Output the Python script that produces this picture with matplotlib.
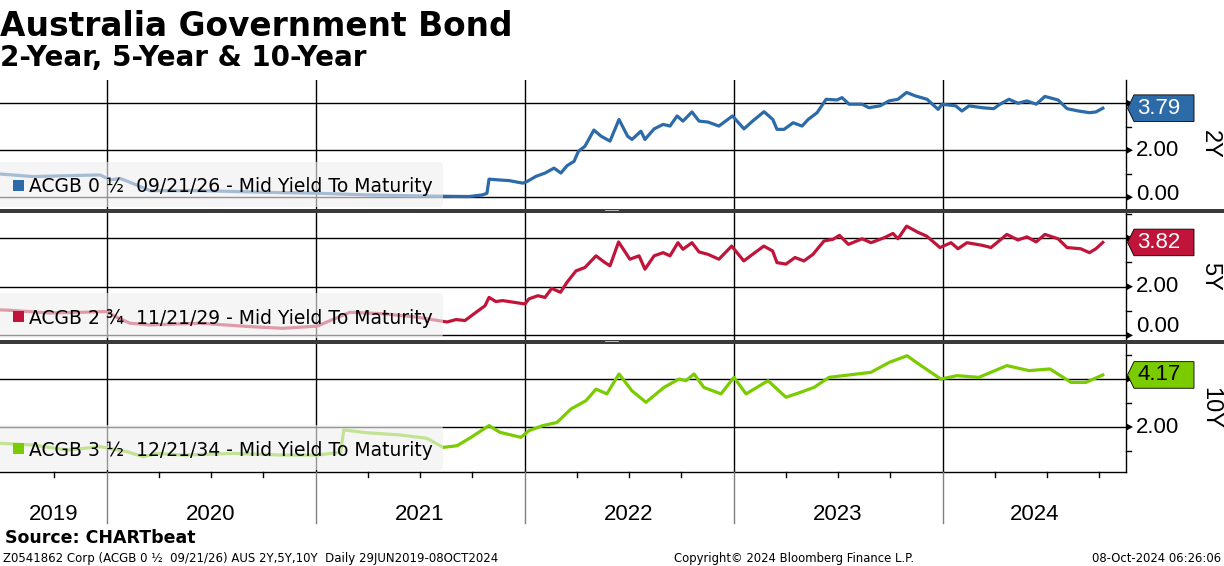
import matplotlib
matplotlib.use("Agg")
import matplotlib.pyplot as plt
from matplotlib.patches import Rectangle, Polygon, FancyBboxPatch
from matplotlib.lines import Line2D
from matplotlib.transforms import IdentityTransform

# ---------------- data (decimal years, yield %) ----------------
x_2y = [2019.490, 2019.648, 2019.825, 2019.969, 2020.017, 2020.065, 2020.136, 2020.208, 2020.447, 2020.768,
        2021.007, 2021.246, 2021.485, 2021.629, 2021.734, 2021.799, 2021.820, 2021.830, 2021.873, 2021.925,
        2021.992, 2022.012, 2022.055, 2022.098, 2022.141, 2022.174, 2022.203, 2022.237, 2022.258, 2022.289,
        2022.332, 2022.366, 2022.409, 2022.452, 2022.493, 2022.514, 2022.557, 2022.576, 2022.620, 2022.663,
        2022.696, 2022.730, 2022.758, 2022.801, 2022.835, 2022.878, 2022.930, 2022.995, 2023.050, 2023.091,
        2023.146, 2023.188, 2023.208, 2023.242, 2023.285, 2023.328, 2023.357, 2023.400, 2023.443, 2023.495,
        2023.519, 2023.553, 2023.615, 2023.648, 2023.701, 2023.744, 2023.787, 2023.828, 2023.871, 2023.926,
        2023.979, 2023.998, 2024.063, 2024.093, 2024.127, 2024.191, 2024.245, 2024.275, 2024.318, 2024.361,
        2024.404, 2024.448, 2024.490, 2024.553, 2024.596, 2024.651, 2024.703, 2024.734, 2024.767]
y_2y = [0.99, 0.88, 0.92, 0.95, 0.74, 0.80, 0.55, 0.28, 0.28, 0.21,
        0.17, 0.10, 0.06, 0.04, 0.03, 0.10, 0.17, 0.77, 0.74, 0.71,
        0.60, 0.67, 0.89, 1.03, 1.24, 1.03, 1.34, 1.53, 1.96, 2.17,
        2.86, 2.60, 2.39, 3.31, 2.60, 2.46, 2.81, 2.46, 2.91, 3.10,
        3.03, 3.46, 3.24, 3.63, 3.24, 3.20, 3.03, 3.46, 2.91, 3.24,
        3.64, 3.31, 2.89, 2.89, 3.17, 3.03, 3.31, 3.60, 4.17, 4.14,
        4.24, 3.96, 3.96, 3.81, 3.89, 4.10, 4.17, 4.46, 4.31, 4.17,
        3.74, 3.96, 3.89, 3.67, 3.89, 3.81, 3.77, 3.96, 4.17, 4.00,
        4.10, 3.96, 4.29, 4.14, 3.77, 3.67, 3.60, 3.63, 3.79]

x_5y = [2019.490, 2019.538, 2019.729, 2019.887, 2020.002, 2020.040, 2020.112, 2020.208, 2020.447, 2020.686,
        2020.844, 2021.007, 2021.165, 2021.323, 2021.485, 2021.629, 2021.672, 2021.715, 2021.768, 2021.811,
        2021.830, 2021.863, 2021.895, 2021.949, 2022.002, 2022.021, 2022.064, 2022.098, 2022.130, 2022.172,
        2022.203, 2022.246, 2022.289, 2022.342, 2022.385, 2022.409, 2022.450, 2022.504, 2022.548, 2022.576,
        2022.620, 2022.663, 2022.696, 2022.734, 2022.758, 2022.801, 2022.835, 2022.878, 2022.930, 2022.991,
        2023.049, 2023.091, 2023.145, 2023.187, 2023.208, 2023.251, 2023.294, 2023.337, 2023.380, 2023.433,
        2023.476, 2023.507, 2023.550, 2023.615, 2023.658, 2023.720, 2023.763, 2023.787, 2023.828, 2023.882,
        2023.924, 2023.988, 2024.041, 2024.074, 2024.117, 2024.191, 2024.232, 2024.308, 2024.361, 2024.404,
        2024.448, 2024.490, 2024.553, 2024.596, 2024.661, 2024.703, 2024.734, 2024.767]
y_5y = [1.05, 1.03, 0.92, 0.95, 0.98, 0.78, 0.50, 0.43, 0.50, 0.36,
        0.29, 0.38, 0.95, 0.89, 0.75, 0.55, 0.65, 0.61, 0.95, 1.22,
        1.56, 1.39, 1.43, 1.36, 1.29, 1.50, 1.63, 1.56, 1.93, 1.77,
        2.18, 2.65, 2.79, 3.27, 2.99, 2.86, 3.84, 3.13, 3.27, 2.72,
        3.27, 3.40, 3.27, 3.81, 3.54, 3.81, 3.43, 3.33, 3.13, 3.67,
        3.06, 3.33, 3.67, 3.47, 2.99, 2.93, 3.20, 3.06, 3.33, 3.88,
        3.95, 4.11, 3.74, 3.97, 3.81, 4.01, 4.19, 3.97, 4.49, 4.24,
        4.08, 3.61, 3.81, 3.56, 3.81, 3.70, 3.61, 4.15, 3.92, 4.05,
        3.84, 4.15, 3.97, 3.61, 3.56, 3.40, 3.56, 3.82]

x_10y = [2019.490, 2019.648, 2019.811, 2019.969, 2020.098, 2020.175, 2020.242, 2020.366, 2020.605, 2020.844,
         2021.007, 2021.120, 2021.135, 2021.246, 2021.404, 2021.533, 2021.610, 2021.677, 2021.744, 2021.830,
         2021.882, 2021.949, 2021.983, 2022.021, 2022.088, 2022.155, 2022.222, 2022.294, 2022.342, 2022.394,
         2022.452, 2022.514, 2022.581, 2022.667, 2022.739, 2022.772, 2022.811, 2022.858, 2022.940, 2023.002,
         2023.060, 2023.165, 2023.251, 2023.318, 2023.385, 2023.457, 2023.524, 2023.591, 2023.658, 2023.744,
         2023.830, 2023.897, 2023.992, 2024.069, 2024.174, 2024.308, 2024.414, 2024.514, 2024.615, 2024.686,
         2024.767]
y_10y = [1.32, 1.25, 1.04, 1.18, 0.97, 0.76, 0.90, 0.83, 0.90, 0.83,
         0.83, 0.95, 1.88, 1.76, 1.67, 1.53, 1.15, 1.22, 1.57, 2.06,
         1.78, 1.64, 1.57, 1.85, 2.06, 2.19, 2.75, 3.10, 3.58, 3.38,
         4.21, 3.51, 3.03, 3.65, 4.00, 3.93, 4.21, 3.65, 3.38, 4.07,
         3.38, 3.93, 3.24, 3.44, 3.65, 4.07, 4.14, 4.21, 4.28, 4.69,
         4.97, 4.56, 4.00, 4.14, 4.07, 4.56, 4.35, 4.42, 3.86, 3.86,
         4.17]

last_values = [3.79, 3.82, 4.17]
panel_names = ["2Y", "5Y", "10Y"]
legend_labels = ["ACGB 0 ½  09/21/26 - Mid Yield To Maturity",
                 "ACGB 2 ¾  11/21/29 - Mid Yield To Maturity",
                 "ACGB 3 ½  12/21/34 - Mid Yield To Maturity"]
year_ticks = [2020, 2021, 2022, 2023, 2024]
year_labels = ["2019", "2020", "2021", "2022", "2023", "2024"]
title = "Australia Government Bond"
subtitle = "2-Year, 5-Year & 10-Year"
source = "Source: CHARTbeat"
footer_left = "Z0541862 Corp (ACGB 0 ½  09/21/26) AUS 2Y,5Y,10Y  Daily 29JUN2019-08OCT2024"
footer_mid = "Copyright© 2024 Bloomberg Finance L.P."
footer_right = "08-Oct-2024 06:26:06"

# ---------------- layout ----------------
W, H = 1224, 566
fig = plt.figure(figsize=(W / 100, H / 100), dpi=100)
fig.patch.set_facecolor("white")
PX = IdentityTransform()
X0, X1 = 2019.490, 2024.878
SPINE = 1126
NUMFONT = "Liberation Sans"

def fig_y(py):
    return 1 - py / H

def px_x(t):
    return (t - X0) / (X1 - X0) * SPINE

panels = [
    dict(top=80, bot=209, ylim=(-0.50, 4.99), major=[0, 2, 4], minor=[1, 3, 5],
         x=x_2y, y=y_2y, color="#2c6aa8", txt="white"),
    dict(top=213, bot=340, ylim=(-0.19, 5.03), major=[0, 2, 4], minor=[1, 3, 5],
         x=x_5y, y=y_5y, color="#c1143a", txt="white"),
    dict(top=344, bot=472, ylim=(0.125, 5.46), major=[2, 4], minor=[1, 3, 5],
         x=x_10y, y=y_10y, color="#7acc00", txt="black"),
]

for i, p in enumerate(panels):
    top, bot = p["top"], p["bot"]
    y0, y1 = p["ylim"]
    ax = fig.add_axes([0, 1 - bot / H, SPINE / W, (bot - top) / H])
    ax.set_xlim(X0, X1)
    ax.set_ylim(y0, y1)
    ax.set_facecolor("none")
    for s in ["top", "left", "bottom"]:
        ax.spines[s].set_visible(False)
    ax.spines["right"].set_color("black")
    ax.spines["right"].set_linewidth(1.0)
    if i == 2:
        ax.spines["bottom"].set_visible(True)
        ax.spines["bottom"].set_color("black")
        ax.spines["bottom"].set_linewidth(1.0)
    ax.set_xticks([])
    ax.set_yticks([])
    for v in p["major"]:
        ax.axhline(v, color="black", lw=1.0, zorder=1)
    for yr in year_ticks:
        ax.axvline(yr, color="black", lw=1.0, zorder=1)
    ax.plot(p["x"], p["y"], color=p["color"], lw=2.3, zorder=3, solid_joinstyle="round")

    def py_of(v):
        return top + (y1 - v) / (y1 - y0) * (bot - top)

    # right-side ticks and labels
    yc = py_of(last_values[i])
    for v in p["major"]:
        py = py_of(v)
        fig.add_artist(Polygon([(1126.5, H - py - 3.5), (1126.5, H - py + 3.5), (1133, H - py)],
                               closed=True, transform=PX, fc="black", ec="none", zorder=5))
        if abs(py - yc) > 16:
            ly = min(py, bot - 14)
            fig.text(1136 / W, fig_y(ly), f"{v:.2f}", ha="left", va="center",
                     fontsize=16, family=NUMFONT, color="black")
    for v in p["minor"]:
        if y0 <= v <= y1:
            py = py_of(v)
            fig.add_artist(Line2D([1126, 1131], [H - py, H - py], transform=PX,
                                  color="black", lw=1.0, zorder=5))

    # value label box
    hh = 13.3
    fig.add_artist(Polygon([(1127.5, H - yc), (1134, H - yc + hh), (1194, H - yc + hh),
                            (1194, H - yc - hh), (1134, H - yc - hh)], closed=True,
                           transform=PX, fc=p["color"], ec="black", lw=0.6, zorder=6))
    fig.text(1137 / W, fig_y(yc), f"{last_values[i]:.2f}", ha="left", va="center",
             fontsize=16, family=NUMFONT, color=p["txt"], zorder=7)

    # panel name
    fig.text(1210 / W, fig_y((top + bot) / 2), panel_names[i], rotation=270,
             ha="center", va="center", fontsize=17, family=NUMFONT, color="black")

    # legend box
    fig.add_artist(FancyBboxPatch((-8, H - (bot - 2)), 451, 45,
                                  boxstyle="round,pad=0,rounding_size=4", transform=PX,
                                  fc=(0.94, 0.94, 0.94), alpha=0.62, ec="none", zorder=4))
    fig.add_artist(Rectangle((13, H - (bot - 18)), 11, 11, transform=PX,
                             fc=p["color"], ec="none", zorder=5))
    fig.text(29 / W, fig_y(bot - 16.5), legend_labels[i], ha="left", va="baseline",
             fontsize=13.5, family="DejaVu Sans", color="black", zorder=5)

# separators between panels
for (a, b) in [(209, 213), (340, 344)]:
    fig.add_artist(Rectangle((0, H - b), W, b - a, transform=PX, fc="#3a3a3a", ec="none", zorder=8))
    fig.add_artist(Rectangle((605, H - a - 2.2), 14, 1.4, transform=PX, fc="#b8b8b8", ec="none", zorder=9))

# x-axis area
bounds = [0] + [px_x(y) for y in year_ticks] + [SPINE]
for yr in year_ticks:
    xp = px_x(yr)
    fig.add_artist(Line2D([xp, xp], [H - 472, H - 523], transform=PX, color="#808080", lw=1.0, zorder=3))
q = 2019.75
while q < X1:
    if abs(q - round(q)) > 1e-6:
        xp = px_x(q)
        fig.add_artist(Line2D([xp, xp], [H - 472, H - 476.5], transform=PX, color="black", lw=1.0, zorder=3))
    q += 0.25
for k, lab in enumerate(year_labels):
    cx = (bounds[k] + bounds[k + 1]) / 2
    fig.text(cx / W, fig_y(519.5), lab, ha="center", va="baseline", fontsize=16,
             family=NUMFONT, color="black")

# titles
fig.text(0.5 / W, fig_y(36), title, ha="left", va="baseline", fontsize=23.7,
         weight="bold", family="DejaVu Sans", color="black")
fig.text(0.5 / W, fig_y(66), subtitle, ha="left", va="baseline", fontsize=20,
         weight="bold", family="DejaVu Sans", color="black")

# footer
fig.text(5 / W, fig_y(543), source, ha="left", va="baseline", fontsize=12.5,
         weight="bold", family="DejaVu Sans", color="black")
fig.text(3 / W, fig_y(562), footer_left, ha="left", va="baseline", fontsize=8.5,
         family="DejaVu Sans", color="black")
fig.text(794 / W, fig_y(562), footer_mid, ha="center", va="baseline", fontsize=8.4,
         family="DejaVu Sans", color="black")
fig.text(1221 / W, fig_y(562), footer_right, ha="right", va="baseline", fontsize=8.4,
         family="DejaVu Sans", color="black")

fig.savefig("out.png", dpi=100, facecolor="white")
